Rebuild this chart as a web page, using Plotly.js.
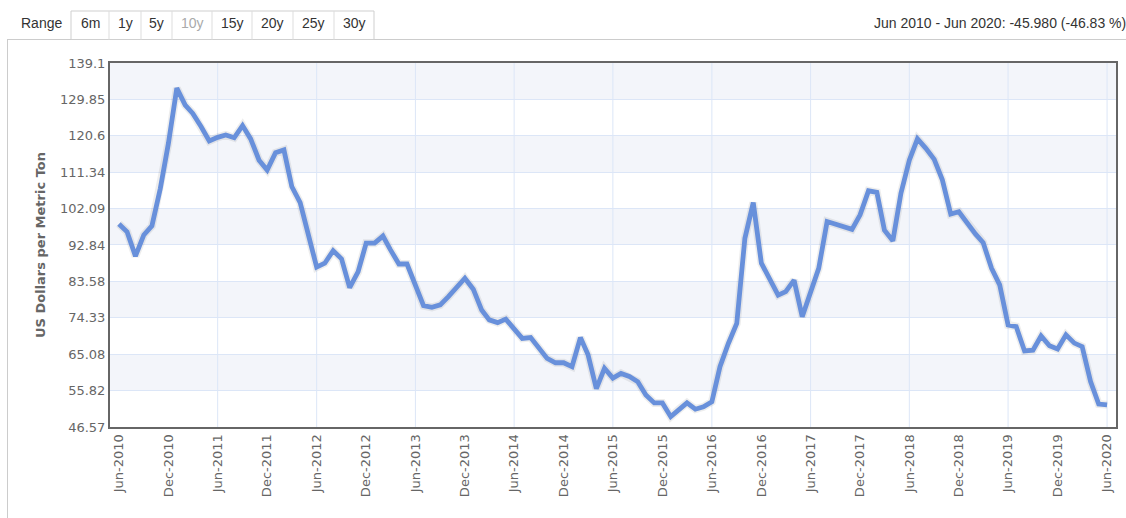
<!DOCTYPE html>
<html>
<head>
<meta charset="utf-8">
<script src="https://cdn.plot.ly/plotly-3.0.1.min.js"></script>
<style>
  html, body { margin: 0; padding: 0; background: #ffffff; }
  #chart { width: 1126px; height: 518px; }
</style>
</head>
<body>
<div id="chart"></div>
<script>
// ---- data (monthly, Jun 2010 .. Jun 2020) ----
const START_YEAR = 2010;
const START_MONTH = 6; // June
const prices = [
  98.18, 96.2, 90.0, 95.4, 97.7, 107.2, 118.7, 132.7, 128.4, 126.3, 122.9, 119.3,
  120.2, 120.8, 120.1, 123.2, 119.8, 114.4, 111.9, 116.3, 117.0, 107.7, 103.6, 95.9,
  87.2, 88.2, 91.4, 89.3, 82.0, 86.0, 93.3, 93.3, 95.1, 91.6, 88.0, 88.0,
  82.7, 77.4, 77.0, 77.6, 79.7, 82.0, 84.4, 81.6, 76.3, 73.8, 73.1, 74.0,
  71.7, 69.1, 69.3, 66.4, 64.0, 62.9, 62.9, 61.9, 69.3, 65.0, 56.3, 61.5,
  59.0, 60.2, 59.4, 58.1, 54.7, 52.7, 52.7, 49.2, 51.1, 52.7, 51.1, 51.7,
  53.0, 61.9, 67.8, 72.9, 94.5, 103.6, 88.2, 83.9, 80.1, 81.0, 83.9, 74.6,
  80.6, 86.9, 98.8, 98.1, 97.7, 96.8, 100.5, 106.6, 106.2, 96.6, 93.9, 106.0,
  114.4, 119.8, 117.4, 114.6, 109.4, 100.7, 101.3, 98.4, 95.6, 93.4, 86.9, 82.7,
  72.5, 72.1, 65.9, 66.1, 69.7, 67.2, 66.4, 70.0, 67.9, 67.0, 58.1, 52.4,
  52.20
];
const yTickVals = [46.57, 55.82, 65.08, 74.33, 83.58, 92.84, 102.09, 111.34, 120.6, 129.85, 139.1];
const yTickText = ["46.57", "55.82", "65.08", "74.33", "83.58", "92.84", "102.09", "111.34", "120.6", "129.85", "139.1"];
const xTickVals = [
  "2010-06-01", "2010-12-01", "2011-06-01", "2011-12-01", "2012-06-01", "2012-12-01",
  "2013-06-01", "2013-12-01", "2014-06-01", "2014-12-01", "2015-06-01", "2015-12-01",
  "2016-06-01", "2016-12-01", "2017-06-01", "2017-12-01", "2018-06-01", "2018-12-01",
  "2019-06-01", "2019-12-01", "2020-06-01"
];
const xTickText = [
  "Jun-2010", "Dec-2010", "Jun-2011", "Dec-2011", "Jun-2012", "Dec-2012",
  "Jun-2013", "Dec-2013", "Jun-2014", "Dec-2014", "Jun-2015", "Dec-2015",
  "Jun-2016", "Dec-2016", "Jun-2017", "Dec-2017", "Jun-2018", "Dec-2018",
  "Jun-2019", "Dec-2019", "Jun-2020"
];
const rangeButtons = ["6m", "1y", "5y", "10y", "15y", "20y", "25y", "30y"];
const selectedButton = "10y";
const summaryText = "Jun 2010 - Jun 2020: -45.980 (-46.83 %)";
const yTitle = "US Dollars per Metric Ton";

// ---- build dates ----
const dates = prices.map((_, i) => {
  const m0 = START_MONTH - 1 + i;
  const y = START_YEAR + Math.floor(m0 / 12);
  const m = (m0 % 12) + 1;
  return y + "-" + String(m).padStart(2, "0") + "-01";
});

// ---- geometry helpers (pixel -> paper) ----
const W = 1126, H = 518;
const M = { l: 110, r: 10, t: 63, b: 91 };
const PW = W - M.l - M.r, PH = H - M.t - M.b;
const px = x => (x - M.l) / PW;
const py = y => (H - M.b - y) / PH;

const shapes = [];
// alternating bands
for (let i = 0; i < yTickVals.length - 1; i++) {
  if ((yTickVals.length - 2 - i) % 2 === 0) {
    shapes.push({ type: "rect", xref: "paper", yref: "y", x0: 0, x1: 1,
      y0: yTickVals[i], y1: yTickVals[i + 1], fillcolor: "#f3f5fa", line: { width: 0 }, layer: "below" });
  }
}
// vertical gridlines at June ticks
xTickVals.forEach((v, i) => {
  if (xTickText[i].startsWith("Jun") && i > 0) {
    shapes.push({ type: "line", xref: "x", yref: "paper", x0: v, x1: v, y0: 0, y1: 1,
      line: { color: "#dce6f7", width: 1 }, layer: "below" });
  }
});
// container border lines
shapes.push({ type: "line", xref: "paper", yref: "paper", x0: px(7), x1: px(1130), y0: py(39.5), y1: py(39.5),
  line: { color: "#cccccc", width: 1 } });
shapes.push({ type: "line", xref: "paper", yref: "paper", x0: px(7.5), x1: px(7.5), y0: py(39.5), y1: py(520),
  line: { color: "#cccccc", width: 1 } });

// range buttons
const btnEdges = [71, 109, 141, 172, 212, 252, 293, 334, 374];
const annotations = [];
shapes.push({ type: "rect", xref: "paper", yref: "paper", x0: px(71), x1: px(374), y0: py(11), y1: py(39.5),
  fillcolor: "#ffffff", line: { color: "#cfcfcf", width: 1 } });
for (let i = 1; i < btnEdges.length - 1; i++) {
  shapes.push({ type: "line", xref: "paper", yref: "paper", x0: px(btnEdges[i]), x1: px(btnEdges[i]),
    y0: py(11), y1: py(39.5), line: { color: "#dddddd", width: 1 } });
}
rangeButtons.forEach((b, i) => {
  annotations.push({ xref: "paper", yref: "paper", x: px((btnEdges[i] + btnEdges[i + 1]) / 2), y: py(23.5),
    text: b, showarrow: false, xanchor: "center", yanchor: "middle",
    font: { family: "Liberation Sans, Arial, sans-serif", size: 14, color: b === selectedButton ? "#aaaaaa" : "#333333" } });
});
annotations.push({ xref: "paper", yref: "paper", x: px(19), y: py(23.5), text: "Range", showarrow: false,
  xanchor: "left", yanchor: "middle", font: { family: "Liberation Sans, Arial, sans-serif", size: 14, color: "#333333" } });
annotations.push({ xref: "paper", yref: "paper", x: px(1128), y: py(23.5), text: summaryText, showarrow: false,
  xanchor: "right", yanchor: "middle", font: { family: "Liberation Sans, Arial, sans-serif", size: 14, color: "#333333" } });

const shadow = {
  x: dates, y: prices, type: "scatter", mode: "lines",
  line: { color: "rgba(0,0,0,0.07)", width: 8 },
  hoverinfo: "skip", showlegend: false
};
const trace = {
  x: dates, y: prices, type: "scatter", mode: "lines",
  line: { color: "#6890db", width: 4.8, shape: "linear" },
  hoverinfo: "x+y", showlegend: false
};

const layout = {
  width: W, height: H,
  margin: M,
  paper_bgcolor: "#ffffff", plot_bgcolor: "#ffffff",
  showlegend: false,
  font: { family: "DejaVu Sans, Verdana, sans-serif", size: 13, color: "#666666" },
  xaxis: {
    type: "date",
    range: ["2010-04-29", "2020-07-04"],
    tickmode: "array", tickvals: xTickVals, ticktext: xTickText,
    tickangle: -90, ticks: "", showgrid: false, zeroline: false,
    showline: true, linecolor: "#666666", linewidth: 2, mirror: true,
    tickfont: { family: "DejaVu Sans, Verdana, sans-serif", size: 13, color: "#666666" },
    fixedrange: true
  },
  yaxis: {
    range: [46.57, 139.1],
    tickmode: "array", tickvals: yTickVals, ticktext: yTickText,
    ticks: "", showgrid: true, gridcolor: "#dce6f7", gridwidth: 1, zeroline: false,
    showline: true, linecolor: "#666666", linewidth: 2, mirror: true,
    tickfont: { family: "DejaVu Sans, Verdana, sans-serif", size: 13, color: "#666666" },
    title: { text: yTitle, standoff: 11, font: { family: "DejaVu Sans, Verdana, sans-serif", size: 13, color: "#666666", weight: "bold" } },
    fixedrange: true
  },
  shapes: shapes,
  annotations: annotations
};

Plotly.newPlot("chart", [shadow, trace], layout, { displayModeBar: false, staticPlot: true });
</script>
</body>
</html>
